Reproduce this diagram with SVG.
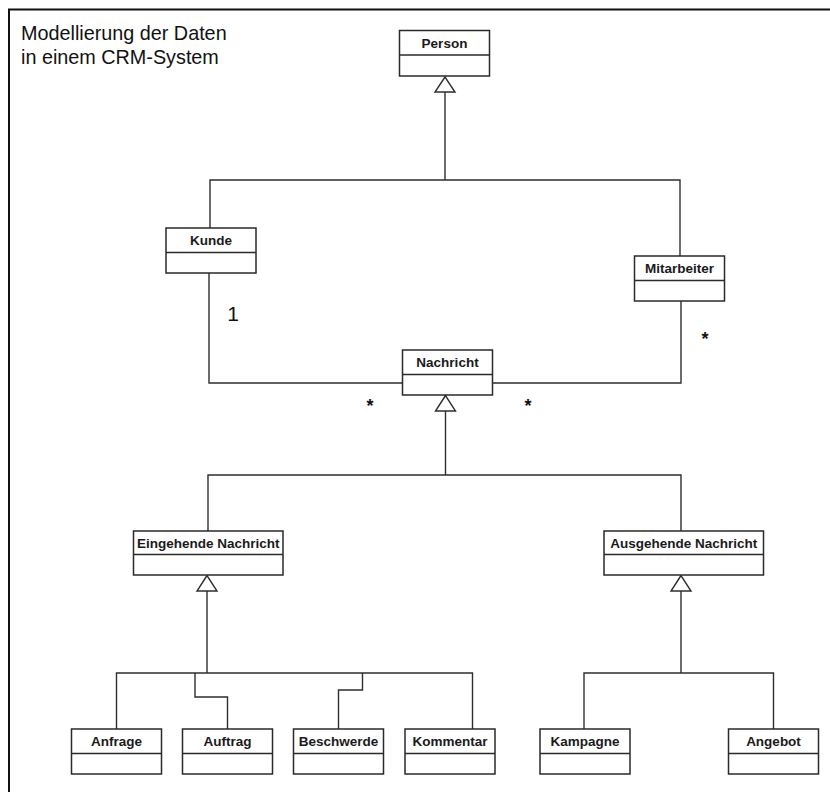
<svg xmlns="http://www.w3.org/2000/svg" width="830" height="792" viewBox="0 0 830 792">
  <style>
    .frame { fill: #ffffff; stroke: #111111; stroke-width: 2; }
    .box { fill: #ffffff; stroke: #2a2a2a; stroke-width: 1.5; }
    .div { stroke: #2a2a2a; stroke-width: 1.5; }
    .name { font-family: "Liberation Sans", Arial, sans-serif; font-size: 13.5px; font-weight: bold; fill: #1a1a1a; text-anchor: middle; }
    .title { font-family: "Liberation Sans", Arial, sans-serif; font-size: 19.8px; fill: #111111; }
    .mult { font-family: "Liberation Sans", Arial, sans-serif; fill: #111111; text-anchor: middle; }
    .line { fill: none; stroke: #2e2e2e; stroke-width: 1.4; }
    .tri { fill: #ffffff; stroke: #2e2e2e; stroke-width: 1.4; }
  </style>
  <defs>
    <!-- class box: header row with name, empty attribute compartment -->
    <g id="cls90">
      <rect class="box" x="0" y="0" width="90" height="45"/>
      <line class="div" x1="0" y1="24.5" x2="90" y2="24.5"/>
    </g>
  </defs>

  <rect width="830" height="792" fill="#ffffff"/>
  <rect class="frame" x="9" y="9.5" width="840" height="800"/>

  <text class="title" x="21" y="39.5">Modellierung der Daten</text>
  <text class="title" x="21" y="63.5">in einem CRM-System</text>

  <!-- connectors -->
  <g id="connectors">
    <!-- Person generalization -->
    <polygon class="tri" points="445,77 435,92 455,92"/>
    <polyline class="line" points="445,92 445,180"/>
    <polyline class="line" points="210,228 210,180 680,180 680,256"/>

    <!-- associations Kunde / Mitarbeiter to Nachricht -->
    <polyline class="line" points="209,273 209,383 402.5,383"/>
    <polyline class="line" points="681,301 681,383 492.5,383"/>

    <!-- Nachricht generalization -->
    <polygon class="tri" points="445.5,395.5 435.5,411 455.5,411"/>
    <polyline class="line" points="445.5,411 445.5,475"/>
    <polyline class="line" points="208,531 208,475 681,475 681,531"/>

    <!-- Eingehende Nachricht generalization -->
    <polygon class="tri" points="207,575.5 197,591 217,591"/>
    <polyline class="line" points="207,591 207,673"/>
    <polyline class="line" points="116.5,729 116.5,673 472.5,673 472.5,729"/>
    <polyline class="line" points="195,673 195,697 227.5,697 227.5,729"/>
    <polyline class="line" points="362.5,673 362.5,690 338.5,690 338.5,729"/>

    <!-- Ausgehende Nachricht generalization -->
    <polygon class="tri" points="681,575.5 671,591 691,591"/>
    <polyline class="line" points="681,591 681,673"/>
    <polyline class="line" points="584,729 584,673 773.5,673 773.5,729"/>

    <!-- multiplicities -->
    <text class="mult" x="233" y="321" font-size="21">1</text>
    <text class="mult" x="370" y="412" font-size="18" font-weight="bold">*</text>
    <text class="mult" x="528" y="412" font-size="18" font-weight="bold">*</text>
    <text class="mult" x="705" y="345" font-size="18" font-weight="bold">*</text>
  </g>

  <g id="person">
    <rect class="box" x="399.5" y="30.5" width="90" height="45.5"/>
    <line class="div" x1="399.5" y1="55" x2="489.5" y2="55"/>
    <text class="name" x="444.5" y="47.5">Person</text>
  </g>

  <g id="kunde">
    <use href="#cls90" x="166" y="228"/>
    <text class="name" x="211" y="245">Kunde</text>
  </g>

  <g id="mitarbeiter">
    <use href="#cls90" x="634.5" y="256"/>
    <text class="name" x="679.5" y="273">Mitarbeiter</text>
  </g>

  <g id="nachricht">
    <use href="#cls90" x="402.5" y="350"/>
    <text class="name" x="447.5" y="367">Nachricht</text>
  </g>

  <g id="eingehende-nachricht">
    <rect class="box" x="133.5" y="531" width="149.5" height="44"/>
    <line class="div" x1="133.5" y1="554.5" x2="283" y2="554.5"/>
    <text class="name" x="208.3" y="548">Eingehende Nachricht</text>
  </g>

  <g id="ausgehende-nachricht">
    <rect class="box" x="604" y="531" width="159.5" height="44"/>
    <line class="div" x1="604" y1="554.5" x2="763.5" y2="554.5"/>
    <text class="name" x="683.8" y="548">Ausgehende Nachricht</text>
  </g>

  <g id="anfrage">
    <use href="#cls90" x="71.5" y="729"/>
    <text class="name" x="116.5" y="746">Anfrage</text>
  </g>

  <g id="auftrag">
    <use href="#cls90" x="182.5" y="729"/>
    <text class="name" x="227.5" y="746">Auftrag</text>
  </g>

  <g id="beschwerde">
    <use href="#cls90" x="293.5" y="729"/>
    <text class="name" x="338.5" y="746">Beschwerde</text>
  </g>

  <g id="kommentar">
    <use href="#cls90" x="405" y="729"/>
    <text class="name" x="450" y="746">Kommentar</text>
  </g>

  <g id="kampagne">
    <use href="#cls90" x="540" y="729"/>
    <text class="name" x="585" y="746">Kampagne</text>
  </g>

  <g id="angebot">
    <use href="#cls90" x="728.5" y="729"/>
    <text class="name" x="773.5" y="746">Angebot</text>
  </g>
</svg>
